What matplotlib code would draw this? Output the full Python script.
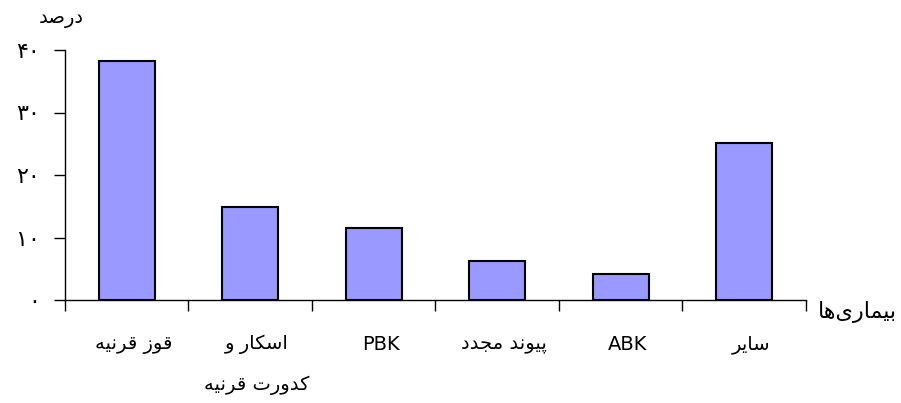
import matplotlib
matplotlib.use("Agg")
import matplotlib.pyplot as plt
import matplotlib.transforms as mtransforms
import numpy as np

# =========================
# DATA
# =========================
categories = ["قوز قرنیه", "اسکار و\nکدورت قرنیه", "PBK", "پیوند مجدد", "ABK", "سایر"]
values = [38.2, 14.9, 11.5, 6.2, 4.1, 25.1]
y_ticks = [0, 10, 20, 30, 40]
y_tick_labels = ["۰", "۱۰", "۲۰", "۳۰", "۴۰"]
y_title = "درصد"
x_title = "بیماری‌ها"

# =========================
# SIMPLE ARABIC/PERSIAN SHAPING (matplotlib has no bidi)
# forms: isolated, final, initial, medial
# =========================
FORMS = {
    "ا": ("\uFE8D", "\uFE8E", None, None),
    "ب": ("\uFE8F", "\uFE90", "\uFE91", "\uFE92"),
    "پ": ("\uFB56", "\uFB57", "\uFB58", "\uFB59"),
    "ت": ("\uFE95", "\uFE96", "\uFE97", "\uFE98"),
    "ج": ("\uFE9D", "\uFE9E", "\uFE9F", "\uFEA0"),
    "د": ("\uFEA9", "\uFEAA", None, None),
    "ر": ("\uFEAD", "\uFEAE", None, None),
    "ز": ("\uFEAF", "\uFEB0", None, None),
    "س": ("\uFEB1", "\uFEB2", "\uFEB3", "\uFEB4"),
    "ص": ("\uFEB9", "\uFEBA", "\uFEBB", "\uFEBC"),
    "ق": ("\uFED5", "\uFED6", "\uFED7", "\uFED8"),
    "ک": ("\uFB8E", "\uFB8F", "\uFB90", "\uFB91"),
    "ل": ("\uFEDD", "\uFEDE", "\uFEDF", "\uFEE0"),
    "م": ("\uFEE1", "\uFEE2", "\uFEE3", "\uFEE4"),
    "ن": ("\uFEE5", "\uFEE6", "\uFEE7", "\uFEE8"),
    "ه": ("\uFEE9", "\uFEEA", "\uFEEB", "\uFEEC"),
    "و": ("\uFEED", "\uFEEE", None, None),
    "ی": ("\uFBFC", "\uFBFD", "\uFBFE", "\uFBFF"),
}


def shape_line(s):
    if not any(c in FORMS for c in s):
        return s
    out = []
    for i, c in enumerate(s):
        if c not in FORMS:
            if c != "\u200c":
                out.append(c)
            continue
        prev = s[i - 1] if i > 0 else ""
        nxt = s[i + 1] if i + 1 < len(s) else ""
        j_prev = prev in FORMS and FORMS[prev][2] is not None
        j_next = nxt in FORMS and FORMS[c][2] is not None
        iso, fin, ini, med = FORMS[c]
        if j_prev and j_next:
            out.append(med)
        elif j_prev:
            out.append(fin)
        elif j_next:
            out.append(ini)
        else:
            out.append(iso)
    return "".join(out)[::-1]


def shape(s):
    return "\n".join(shape_line(line) for line in s.split("\n"))


# =========================
# PLOT
# =========================
plt.rcParams['font.family'] = ['DejaVu Sans']

fig = plt.figure(figsize=(9.01, 4.03), dpi=100)
ax = fig.add_axes([65 / 901, 103 / 403, (806 - 65) / 901, 250 / 403])

x = np.arange(len(categories))
ax.bar(x, values, width=0.45, color="#9999FF", edgecolor="black", linewidth=1.5)

ax.set_xlim(-0.5, len(categories) - 0.5)
ax.set_ylim(0, 40)

ax.spines['top'].set_visible(False)
ax.spines['right'].set_visible(False)
ax.spines['left'].set_linewidth(1.0)
ax.spines['bottom'].set_linewidth(1.0)

# y axis
ax.set_yticks(y_ticks)
ax.set_yticklabels(y_tick_labels, fontsize=16)
ax.tick_params(axis='y', direction='out', length=8, width=1, pad=10)

# x axis: tick marks at category boundaries, labels at centres
ax.set_xticks(np.arange(-0.5, len(categories), 1.0))
ax.set_xticklabels([])
ax.tick_params(axis='x', which='major', direction='out', length=8, width=1)
ax.set_xticks(x, minor=True)
ax.set_xticklabels([shape(c) for c in categories], minor=True, fontsize=14,
                   linespacing=2.4, va='top')
ax.tick_params(axis='x', which='minor', length=0, pad=25)
offset = mtransforms.ScaledTranslation(7 / 100, 0, fig.dpi_scale_trans)
for lbl in ax.get_xticklabels(minor=True):
    lbl.set_transform(lbl.get_transform() + offset)

fig.text(61 / 901, 1 - 19 / 403, shape(y_title), fontsize=14, ha='center', va='center')
fig.text(818 / 901, 1 - 312 / 403, shape(x_title), fontsize=16, ha='left', va='center')

fig.savefig("out.png", dpi=100)
